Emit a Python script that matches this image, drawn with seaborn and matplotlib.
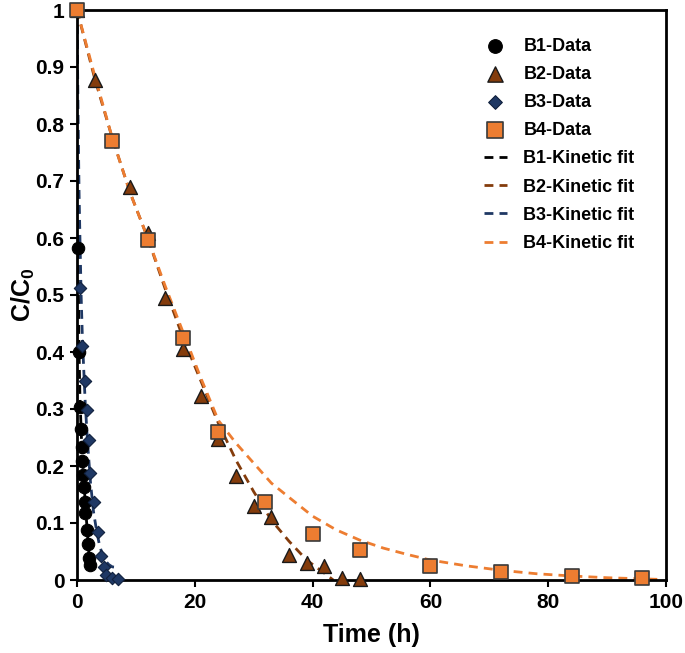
import matplotlib
matplotlib.use('Agg')
import matplotlib.pyplot as plt
import seaborn as sns


# Values
b1_time = [0, 0.25, 0.33, 0.5, 0.67, 0.83, 0.92, 1.0, 1.17, 1.33, 1.42, 1.67, 1.83, 2.0, 2.17]
b1_conc = [1.0, 0.582, 0.40, 0.304, 0.265, 0.234, 0.208, 0.184, 0.164, 0.137, 0.117, 0.088, 0.064, 0.038, 0.026]

b2_time = [0, 3, 9, 12, 15, 18, 21, 24, 27, 30, 33, 36, 39, 42, 45, 48]
b2_conc = [1.0, 0.877, 0.689, 0.608, 0.495, 0.405, 0.323, 0.247, 0.182, 0.13, 0.11, 0.043, 0.029, 0.024, 0.003, 0.001]

b3_time = [0, 0.5, 0.83, 1.33, 1.67, 2.0, 2.25, 2.92, 3.5, 4.0, 4.5, 5.0, 6.0, 7.0]
b3_conc = [1.0, 0.513, 0.41, 0.35, 0.298, 0.246, 0.188, 0.136, 0.085, 0.042, 0.022, 0.009, 0.003, 0.001]

b4_time = [0, 6, 12, 18, 24, 32, 40, 48, 60, 72, 84, 96]
b4_conc = [1.0, 0.77, 0.597, 0.425, 0.26, 0.136, 0.081, 0.053, 0.025, 0.0135, 0.0075, 0.004]

# kinetic fit curves
b1_fit_time = [0, 0.05, 0.1, 0.2, 0.35, 0.5, 0.75, 1.0, 1.25, 1.5, 1.75, 2.0, 2.2]
b1_fit_conc = [1.0, 0.85, 0.72, 0.55, 0.40, 0.32, 0.25, 0.20, 0.16, 0.12, 0.085, 0.05, 0.03]

b2_fit_time = [0, 3, 6, 9, 12, 15, 18, 21, 24, 27, 30, 33, 36, 39, 42, 43.5]
b2_fit_conc = [1.0, 0.88, 0.775, 0.68, 0.6, 0.51, 0.425, 0.35, 0.275, 0.21, 0.155, 0.105, 0.068, 0.035, 0.012, 0.0]

b3_fit_time = [0, 0.1, 0.2, 0.35, 0.5, 0.7, 0.9, 1.1, 1.4, 1.8, 2.3, 2.8, 3.3, 3.8, 4.3, 4.8, 5.4, 6.0, 7.0]
b3_fit_conc = [1.0, 0.9, 0.8, 0.68, 0.6, 0.5, 0.43, 0.38, 0.31, 0.24, 0.17, 0.12, 0.088, 0.062, 0.045, 0.034, 0.027, 0.023, 0.022]

b4_fit_time = [0, 3, 6, 9, 12, 15, 18, 21, 24, 27, 30, 33, 36, 40, 44, 48, 52, 56, 60, 66, 72, 78, 84, 90, 96, 99]
b4_fit_conc = [1.0, 0.885, 0.775, 0.68, 0.6, 0.515, 0.435, 0.355, 0.28, 0.24, 0.205, 0.17, 0.145, 0.112, 0.088, 0.07, 0.056, 0.045, 0.035, 0.025, 0.017, 0.011, 0.007, 0.004, 0.002, 0.001]

x_ticks = [0, 20, 40, 60, 80, 100]
y_ticks = [0, 0.1, 0.2, 0.3, 0.4, 0.5, 0.6, 0.7, 0.8, 0.9, 1.0]
y_tick_labels = ['0', '0.1', '0.2', '0.3', '0.4', '0.5', '0.6', '0.7', '0.8', '0.9', '1']

legend_order = ['B1-Data', 'B2-Data', 'B3-Data', 'B4-Data',
                'B1-Kinetic fit', 'B2-Kinetic fit', 'B3-Kinetic fit', 'B4-Kinetic fit']


sns.set_style('white')
plt.rcParams['font.family'] = ['Liberation Sans', 'DejaVu Sans']
plt.rcParams['font.weight'] = 'bold'
plt.rcParams['text.color'] = 'black'
plt.rcParams['axes.labelcolor'] = 'black'
plt.rcParams['mathtext.fontset'] = 'custom'
plt.rcParams['mathtext.rm'] = 'Liberation Sans:bold'
plt.rcParams['mathtext.it'] = 'Liberation Sans:bold'
plt.rcParams['mathtext.bf'] = 'Liberation Sans:bold'

BLACK = '#000000'
BROWN = '#843C0C'
NAVY = '#1F3864'
ORANGE = '#ED7D31'

fig = plt.figure(figsize=(6.85, 6.53), dpi=100)
ax = fig.add_axes([77 / 685, 73 / 653, 589 / 685, 570 / 653])

# fits (dashed)
dash = (0, (3.2, 2.2))
for t, c, col, name in [(b1_fit_time, b1_fit_conc, BLACK, 'B1-Kinetic fit'),
                        (b2_fit_time, b2_fit_conc, BROWN, 'B2-Kinetic fit'),
                        (b3_fit_time, b3_fit_conc, NAVY, 'B3-Kinetic fit'),
                        (b4_fit_time, b4_fit_conc, ORANGE, 'B4-Kinetic fit')]:
    sns.lineplot(x=t, y=c, ax=ax, color=col, lw=2, linestyle=dash,
                 sort=False, errorbar=None, label=name, zorder=2)

# data (markers)
sns.scatterplot(x=b1_time, y=b1_conc, ax=ax, marker='o', s=80, color=BLACK,
                edgecolor=BLACK, linewidth=0.8, clip_on=False, label='B1-Data', zorder=3)
sns.scatterplot(x=b2_time, y=b2_conc, ax=ax, marker='^', s=100, color=BROWN,
                edgecolor='#1a1a1a', linewidth=1.0, clip_on=False, label='B2-Data', zorder=3)
sns.scatterplot(x=b3_time, y=b3_conc, ax=ax, marker='D', s=40, color=NAVY,
                edgecolor='#10203d', linewidth=0.8, clip_on=False, label='B3-Data', zorder=3)
sns.scatterplot(x=b4_time, y=b4_conc, ax=ax, marker='s', s=100, color=ORANGE,
                edgecolor='#3a3a3a', linewidth=1.2, clip_on=False, label='B4-Data', zorder=4)

ax.set_xlim(0, 100)
ax.set_ylim(0, 1)
ax.set_xticks(x_ticks)
ax.set_xticklabels([str(v) for v in x_ticks])
ax.set_yticks(y_ticks)
ax.set_yticklabels(y_tick_labels)
ax.tick_params(axis='both', which='major', direction='out', length=5, width=1.5,
               bottom=True, left=True, labelsize=15, colors='black', pad=4)

for s in ax.spines.values():
    s.set_color('black')
    s.set_linewidth(2)
    s.set_zorder(2.5)

ax.set_xlabel('Time (h)', fontsize=18, fontweight='bold', labelpad=8)
ax.set_ylabel('C/C$_0$', fontsize=18, fontweight='bold', labelpad=-1)

handles, labels = ax.get_legend_handles_labels()
lookup = dict(zip(labels, handles))
ax.legend([lookup[k] for k in legend_order], legend_order,
          loc='upper left', bbox_to_anchor=(0.663, 0.98), frameon=False,
          handlelength=1.3, handletextpad=0.9, labelspacing=0.62,
          borderpad=0.4, markerscale=1.1, prop={'weight': 'bold', 'size': 13})

fig.savefig('out.png', dpi=100)
